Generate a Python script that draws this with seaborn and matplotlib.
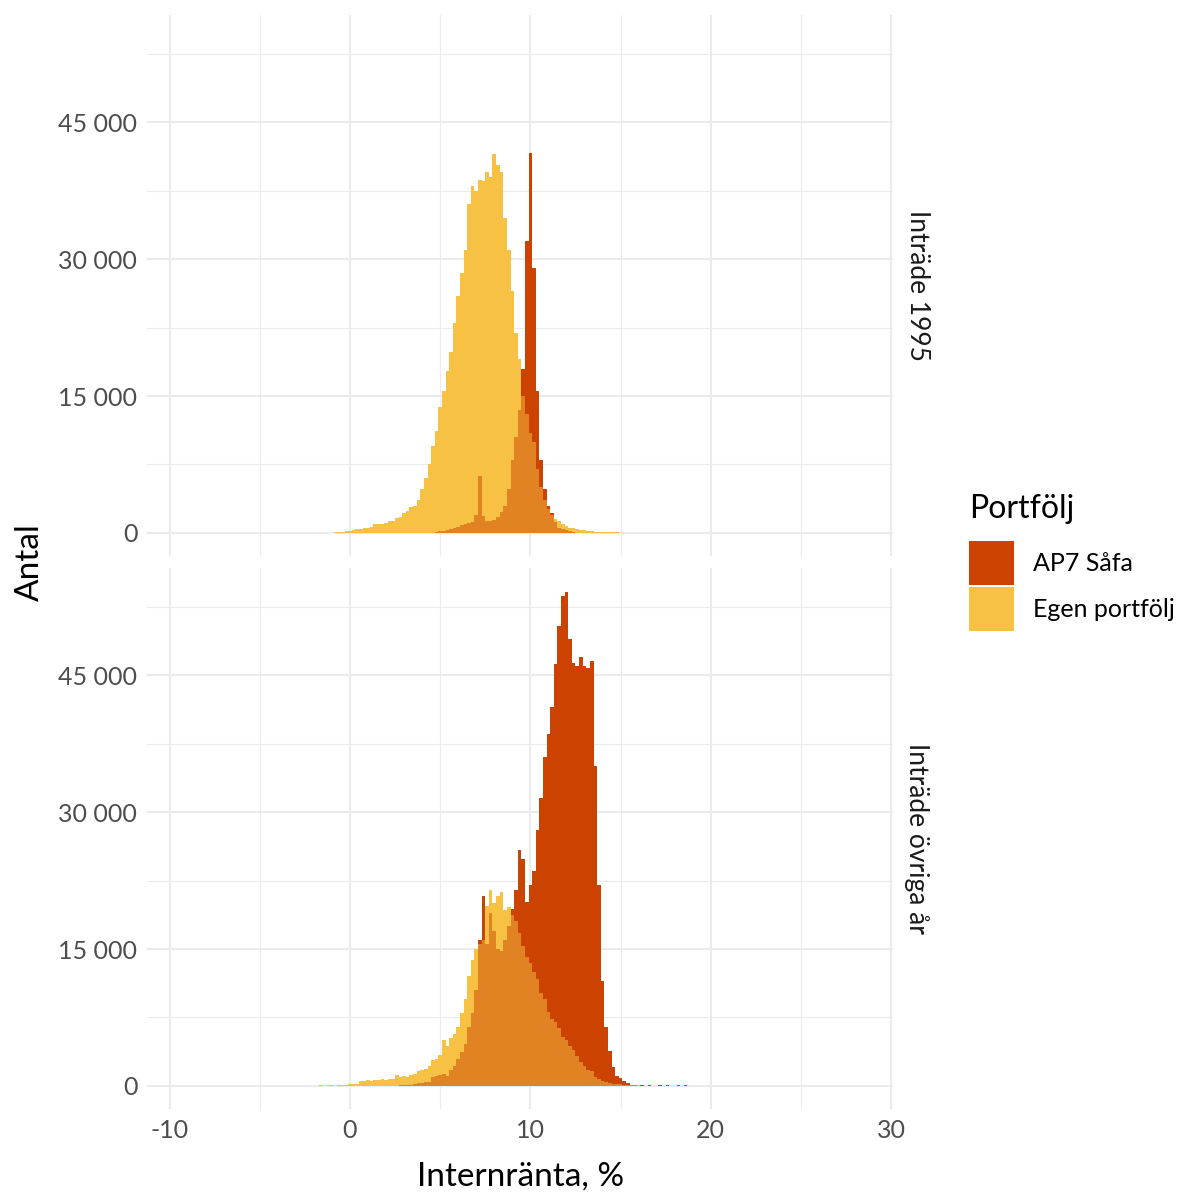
import numpy as np
import pandas as pd
import seaborn as sns
import matplotlib
matplotlib.use("Agg")
import matplotlib.pyplot as plt
from matplotlib.patches import Patch
from matplotlib.ticker import FuncFormatter, MultipleLocator

# histogram counts, bins 0.2 wide, first bin centre given by *_start
bin_w = 0.2

egen_1995_start = -0.8
egen_1995 = [100, 150, 150, 200, 200, 300, 400, 450, 500, 600, 700, 1000, 950, 950,
             1100, 1300, 1300, 1600, 1800, 2200, 2400, 2800, 3000, 3600, 4800, 6000,
             7500, 9500, 11200, 13800, 15500, 17700, 19800, 23000, 25900, 28500, 31000,
             36000, 38000, 37500, 38700, 38500, 39500, 39000, 41500, 40300, 39500, 34500,
             31000, 26500, 21900, 19000, 15000, 13000, 11000, 10000, 7000, 5000, 3600,
             2600, 2000, 1500, 1300, 1000, 800, 600, 500, 450, 350, 300, 250, 200, 150,
             150, 150, 100, 100, 100, 80]

safa_1995_start = 4.6
safa_1995 = [50, 100, 200, 250, 300, 400, 500, 700, 900, 1000, 1100, 1200, 2000, 6200,
             1900, 1300, 1300, 1400, 1800, 2300, 3000, 4800, 8000, 10500, 13500, 18000,
             32000, 41600, 29000, 15500, 8000, 4800, 3000, 2200, 1200, 600, 400, 300,
             200, 100, 50]

egen_ovr_start = -1.6
egen_ovr = [60, 0, 60, 60, 0, 80, 80, 150, 200, 200, 250, 550, 600, 650, 550, 650, 700,
            750, 650, 750, 800, 1200, 1000, 1100, 1000, 1200, 1300, 1600, 1800, 1900,
            2200, 2900, 3000, 3400, 5000, 4400, 5200, 5700, 6500, 8000, 9500, 12000,
            13800, 15000, 15600, 16000, 19700, 21500, 20000, 20800, 21200, 19300, 19600,
            18700, 18100, 16800, 15300, 14100, 13500, 12500, 11700, 10200, 9500, 8100,
            7300, 7000, 6300, 5400, 5000, 4400, 3900, 3300, 2600, 2200, 1700, 1600, 1000,
            800, 500, 400, 350, 250, 200, 200, 150, 100, 80, 60, 60, 40, 40, 40, 30, 30,
            30, 30, 20, 30, 20, 20, 20, 20, 20]

safa_ovr_start = 2.6
safa_ovr = [50, 80, 100, 120, 150, 200, 300, 350, 400, 450, 1000, 1100, 1200, 1300, 1100,
            1800, 2200, 3000, 3700, 4600, 6500, 8000, 10500, 16000, 20800, 15500, 18900,
            17000, 15000, 14800, 16000, 17500, 19400, 21500, 25800, 24900, 20200, 22000,
            23500, 28000, 31500, 36000, 38500, 41500, 46200, 50400, 53700, 54100, 48900,
            46300, 46000, 47000, 46000, 45800, 46500, 35000, 22000, 11500, 6500, 3800,
            2100, 1100, 900, 600, 300, 100, 60, 0, 80, 0, 60, 0, 0, 80, 0, 60, 0, 0, 80,
            0, 60, 0]

x_ticks = [-10, 0, 10, 20, 30]
y_ticks = [0, 15000, 30000, 45000]
facets = ["Inträde 1995", "Inträde övriga år"]
portfoljer = ["AP7 Såfa", "Egen portfölj"]

col_safa = "#CC4200"
col_egen = "#F7C143"
col_both = "#E18322"


def to_series(start, counts):
    idx = np.round(start + bin_w * np.arange(len(counts)), 1)
    return pd.Series(counts, index=idx, dtype=float)


def draw_hist(ax, s, color):
    df = pd.DataFrame({"x": s.index.values, "n": s.values})
    lo = float(df["x"].min()) - bin_w / 2
    hi = float(df["x"].max()) + bin_w / 2
    sns.histplot(data=df, x="x", weights="n", binwidth=bin_w, binrange=(lo, hi),
                 ax=ax, color=color, element="step", fill=True, alpha=1, linewidth=0)


W, H = 1181, 1197
plt.rcParams["font.family"] = ["Lato", "DejaVu Sans"]
plt.rcParams["axes.unicode_minus"] = False
fig = plt.figure(figsize=(W / 100, H / 100), dpi=100)

panels = [(15, 556), (568, 1109)]
data = [(to_series(safa_1995_start, safa_1995), to_series(egen_1995_start, egen_1995)),
        (to_series(safa_ovr_start, safa_ovr), to_series(egen_ovr_start, egen_ovr))]

axes = []
for (top, bot), (safa, egen), lab in zip(panels, data, facets):
    ax = fig.add_axes([147 / W, 1 - bot / H, (893 - 147) / W, (bot - top) / H])
    axes.append(ax)
    grid = safa.index.union(egen.index)
    s = safa.reindex(grid, fill_value=0)
    e = egen.reindex(grid, fill_value=0)
    both = pd.concat([s, e], axis=1).min(axis=1)
    draw_hist(ax, s, col_safa)
    draw_hist(ax, e, col_egen)
    draw_hist(ax, both, col_both)

    ax.set_xlim(-11.25, 30.1)
    ax.set_ylim(-2520, 56720)
    ax.set_xticks(x_ticks)
    ax.set_yticks(y_ticks)
    ax.xaxis.set_minor_locator(MultipleLocator(5))
    ax.yaxis.set_minor_locator(MultipleLocator(7500))
    ax.grid(which="major", color="#EBEBEB", linewidth=1.5)
    ax.grid(which="minor", color="#EBEBEB", linewidth=0.8)
    ax.set_axisbelow(True)
    for sp in ax.spines.values():
        sp.set_visible(False)
    ax.tick_params(which="both", length=0, labelsize=18, colors="#4D4D4D", pad=7)
    ax.yaxis.set_major_formatter(FuncFormatter(lambda v, p: f"{int(v):,}".replace(",", " ")))
    ax.set_xlabel("")
    ax.set_ylabel("")
    fig.text(917 / W, 1 - (top + bot) / 2 / H, lab, rotation=270, ha="center",
             va="center", fontsize=19, color="#1A1A1A")

axes[0].tick_params(axis="x", labelbottom=False)

fig.text(521 / W, 1 - 1177 / H, "Internränta, %", ha="center", va="center",
         fontsize=24, color="black")
fig.text(30 / W, 1 - 562 / H, "Antal", rotation=90, ha="center", va="center",
         fontsize=24, color="black")

# legend
fig.text(969 / W, 1 - 509 / H, "Portfölj", ha="left", va="center", fontsize=23,
         color="black")
handles = [Patch(facecolor=col_safa, edgecolor="none"), Patch(facecolor=col_egen, edgecolor="none")]
fig.legend(handles, portfoljer, loc="upper left",
           bbox_to_anchor=(969 / W, 1 - 541 / H), frameon=False, fontsize=18,
           handlelength=1.8, handleheight=2.33, labelspacing=0.1,
           handletextpad=0.75, borderpad=0, borderaxespad=0)

fig.savefig("out.png", dpi=100)
